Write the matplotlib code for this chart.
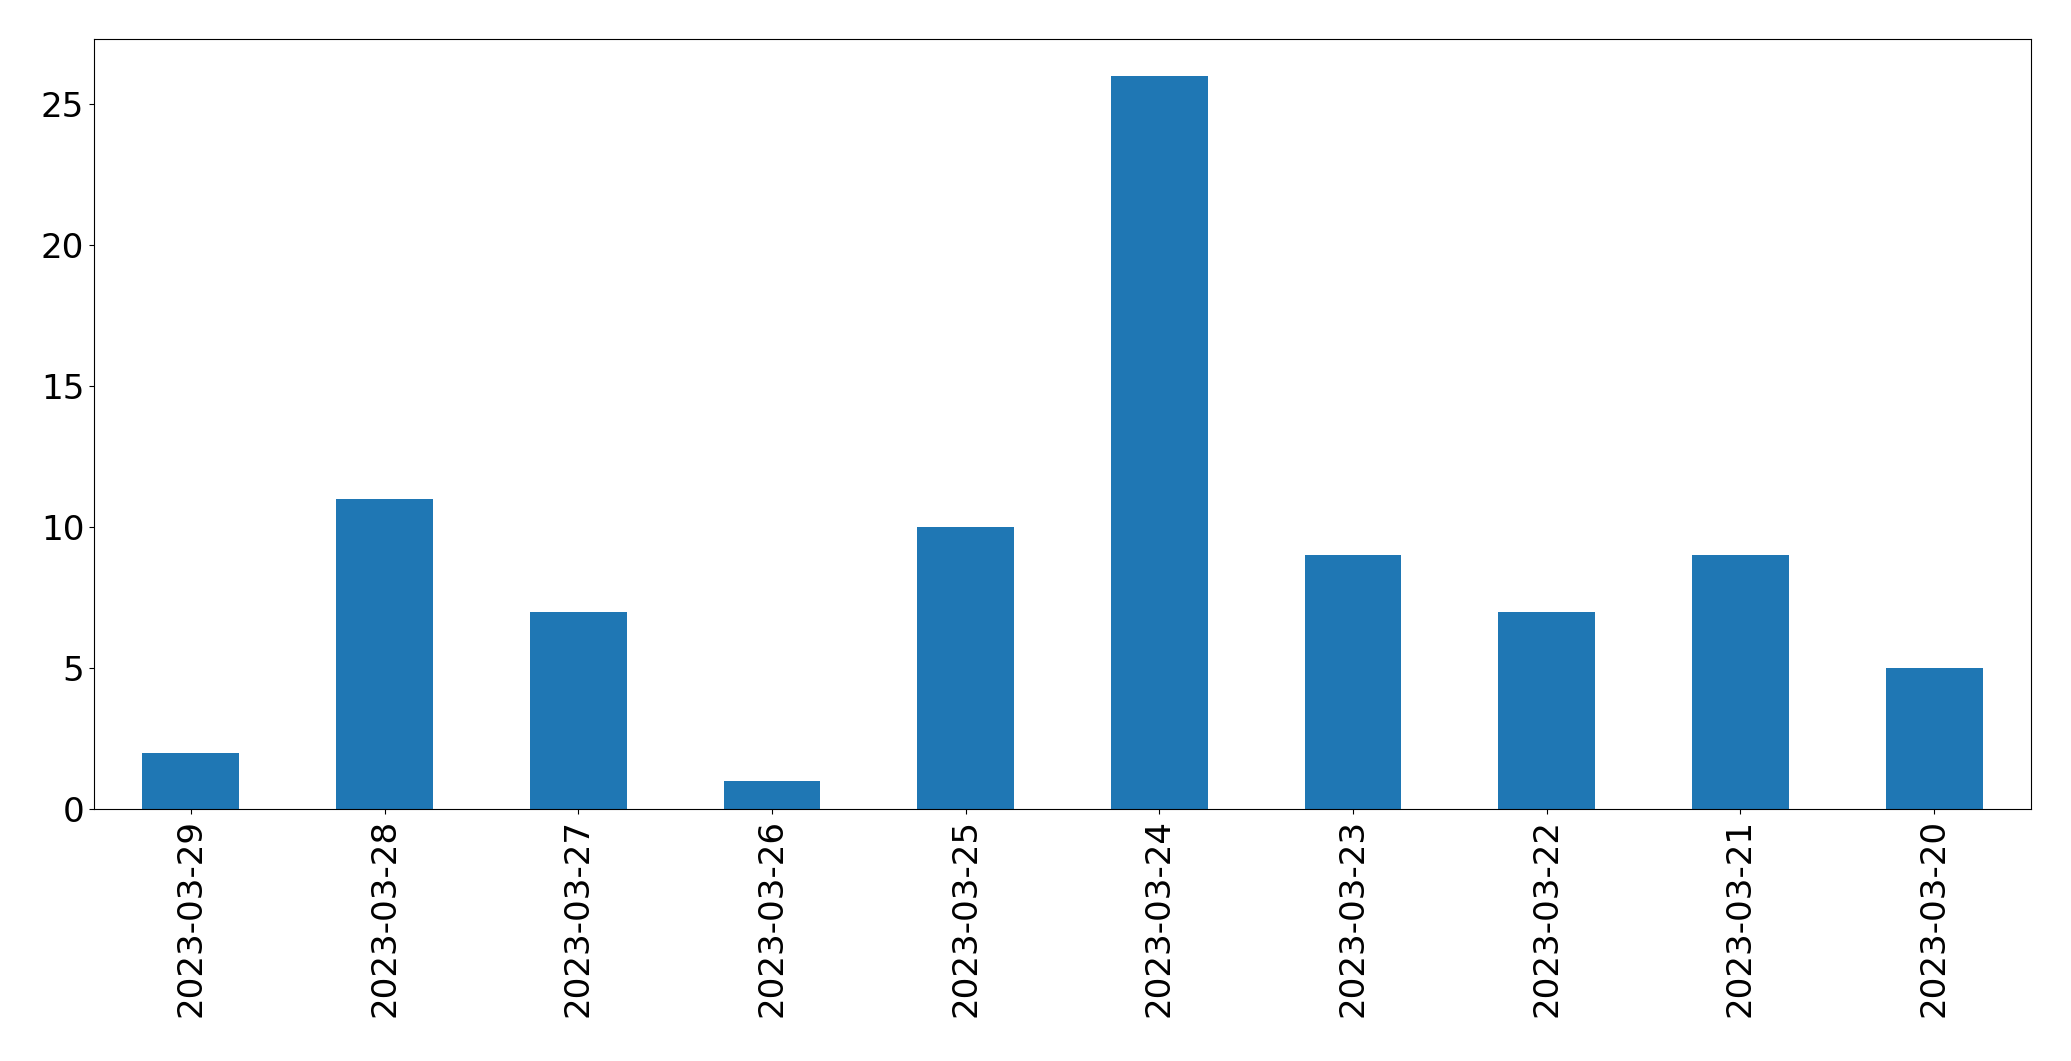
import matplotlib
matplotlib.use("Agg")
import matplotlib.pyplot as plt
import numpy as np

dates = ["2023-03-29", "2023-03-28", "2023-03-27", "2023-03-26", "2023-03-25",
         "2023-03-24", "2023-03-23", "2023-03-22", "2023-03-21", "2023-03-20"]
counts = [2, 11, 7, 1, 10, 26, 9, 7, 9, 5]

W, H = 2071, 1061
fig = plt.figure(figsize=(W / 100, H / 100), dpi=100)
ax = fig.add_axes([94 / W, 1 - 809 / H, (2031 - 94) / W, (809 - 39) / H])

x = np.arange(len(dates))
ax.bar(x, counts, width=0.5, color="#1f77b4")
ax.set_xlim(-0.5, len(dates) - 0.5)
ax.set_ylim(0, 27.3)
ax.set_xticks(x)
ax.set_xticklabels(dates, rotation=90)
ax.set_yticks([0, 5, 10, 15, 20, 25])
ax.tick_params(labelsize=24.6)

fig.savefig("out.png", dpi=100)
